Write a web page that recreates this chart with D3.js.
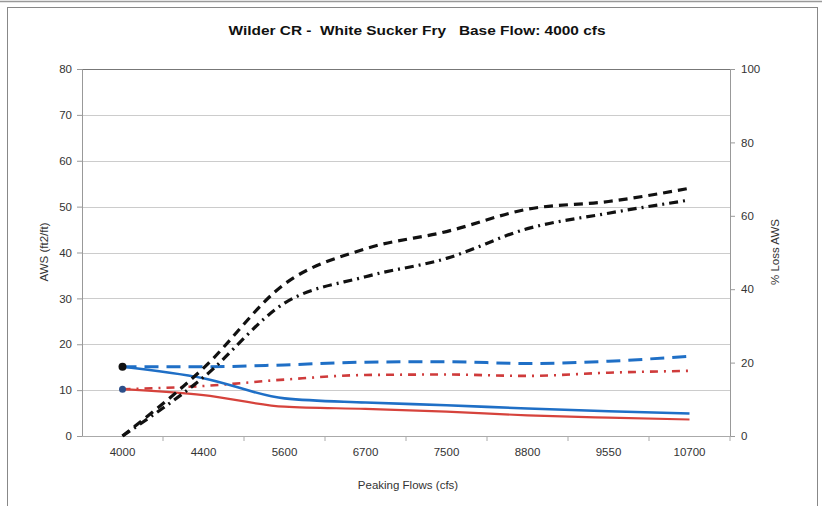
<!DOCTYPE html>
<html><head><meta charset="utf-8">
<script src="https://cdn.jsdelivr.net/npm/d3@7"></script>
<style>body{margin:0;background:#fff;}text{font-family:"Liberation Sans",Arial,sans-serif;}</style>
</head><body>
<svg id="c" width="822" height="506"></svg>
<script>
const categories = ["4000","4400","5600","6700","7500","8800","9550","10700"];
const awsBlueSolid = [15.1, 12.6, 8.2, 7.3, 6.7, 6.0, 5.4, 4.9];
const awsRedSolid = [10.2, 8.9, 6.4, 5.9, 5.3, 4.5, 4.0, 3.6];
const awsBlueDashed = [15.1, 15.1, 15.5, 16.1, 16.2, 15.8, 16.3, 17.4];
const awsRedDashDot = [10.2, 10.9, 12.3, 13.3, 13.4, 13.1, 13.8, 14.2];
const lossBlackDashed = [0, 18.5, 41.4, 51.0, 55.7, 61.8, 63.9, 67.5];
const lossBlackDashDot = [0, 16.0, 36.2, 43.4, 48.4, 56.5, 60.7, 64.3];
const leftTicks = [0,10,20,30,40,50,60,70,80];
const rightTicks = [0,20,40,60,80,100];

const svg = d3.select("#c");
const L = 82, R = 730, T = 69, B = 436;

// frame
svg.append("line").attr("x1",0).attr("x2",822).attr("y1",1.5).attr("y2",1.5).attr("stroke","#999").attr("stroke-width",1.5);
svg.append("rect").attr("x",7.5).attr("y",7.5).attr("width",810).attr("height",505).attr("fill","none").attr("stroke","#888").attr("stroke-width",1);

const x = d3.scaleBand().domain(categories).range([L,R]);
const yL = d3.scaleLinear().domain([0,80]).range([B,T]);
const yR = d3.scaleLinear().domain([0,100]).range([B,T]);
const cx = c => x(c) + x.bandwidth()/2;

// gridlines
svg.append("g").selectAll("line").data(leftTicks.slice(1)).join("line")
  .attr("x1",L).attr("x2",R).attr("y1",d=>Math.round(yL(d))+0.5).attr("y2",d=>Math.round(yL(d))+0.5)
  .attr("stroke",d=>d===80?"#777":"#ccc").attr("stroke-width",1);

// axes
const gl = svg.append("g").attr("transform",`translate(${L},0)`)
  .call(d3.axisLeft(yL).tickValues(leftTicks).tickSize(5).tickPadding(5));
const gr = svg.append("g").attr("transform",`translate(${R},0)`)
  .call(d3.axisRight(yR).tickValues(rightTicks).tickSize(5).tickPadding(6));
const gb = svg.append("g").attr("transform",`translate(0,${B})`)
  .call(d3.axisBottom(x).tickSize(0).tickPadding(12));
[gl,gr,gb].forEach(g=>{
  g.selectAll(".domain").attr("stroke","#999");
  g.selectAll(".tick line").attr("stroke","#999");
  g.selectAll("text").attr("fill","#333").style("font-size","11.5px").style("font-family","'Liberation Sans',Arial,sans-serif");
});
gb.select(".domain").attr("stroke","#aaa");
// category boundary ticks
svg.append("g").selectAll("line").data(categories).join("line")
  .attr("x1",d=>x(d)+x.bandwidth()).attr("x2",d=>x(d)+x.bandwidth())
  .attr("y1",B).attr("y2",B+5).attr("stroke","#aaa");

// titles
svg.append("text").attr("x",417).attr("y",35).attr("text-anchor","middle")
  .style("font-size","13.5px").style("font-weight","bold").style("white-space","pre").attr("fill","#111")
  .attr("textLength",377).attr("lengthAdjust","spacingAndGlyphs")
  .text("Wilder CR -  White Sucker Fry   Base Flow: 4000 cfs");
svg.append("text").attr("transform","translate(48,252) rotate(-90)").attr("text-anchor","middle")
  .style("font-size","11.5px").attr("fill","#333").text("AWS (ft2/ft)");
svg.append("text").attr("transform","translate(779,252) rotate(-90)").attr("text-anchor","middle")
  .style("font-size","11.5px").attr("fill","#333").text("% Loss AWS");
svg.append("text").attr("x",408).attr("y",489).attr("text-anchor","middle")
  .style("font-size","11.5px").attr("fill","#333").text("Peaking Flows (cfs)");

// lines
const curve = d3.curveMonotoneX;
function draw(vals, scale, color, width, dash){
  const line = d3.line().x((d,i)=>cx(categories[i])).y(d=>scale(d)).curve(curve);
  svg.append("path").datum(vals).attr("d",line).attr("fill","none")
    .attr("stroke",color).attr("stroke-width",width)
    .attr("stroke-dasharray",dash||null).attr("stroke-linecap","butt");
}
draw(awsBlueDashed, yL, "#1f6fc6", 3, "14,8");
draw(awsRedDashDot, yL, "#cf3b3b", 2.6, "8,6,2,6");
draw(awsRedSolid, yL, "#d6433c", 2.2);
draw(awsBlueSolid, yL, "#1f6fc6", 2.6);
draw(lossBlackDashed, yR, "#111", 3.2, "9,6");
draw(lossBlackDashDot, yR, "#111", 3.2, "9,5,2,5");

// first-point markers
svg.append("circle").attr("cx",cx(categories[0])).attr("cy",yL(awsBlueSolid[0])).attr("r",4).attr("fill","#111");
svg.append("circle").attr("cx",cx(categories[0])).attr("cy",yL(awsRedSolid[0])).attr("r",3.5).attr("fill","#2d4f8a");
</script>
</body></html>
